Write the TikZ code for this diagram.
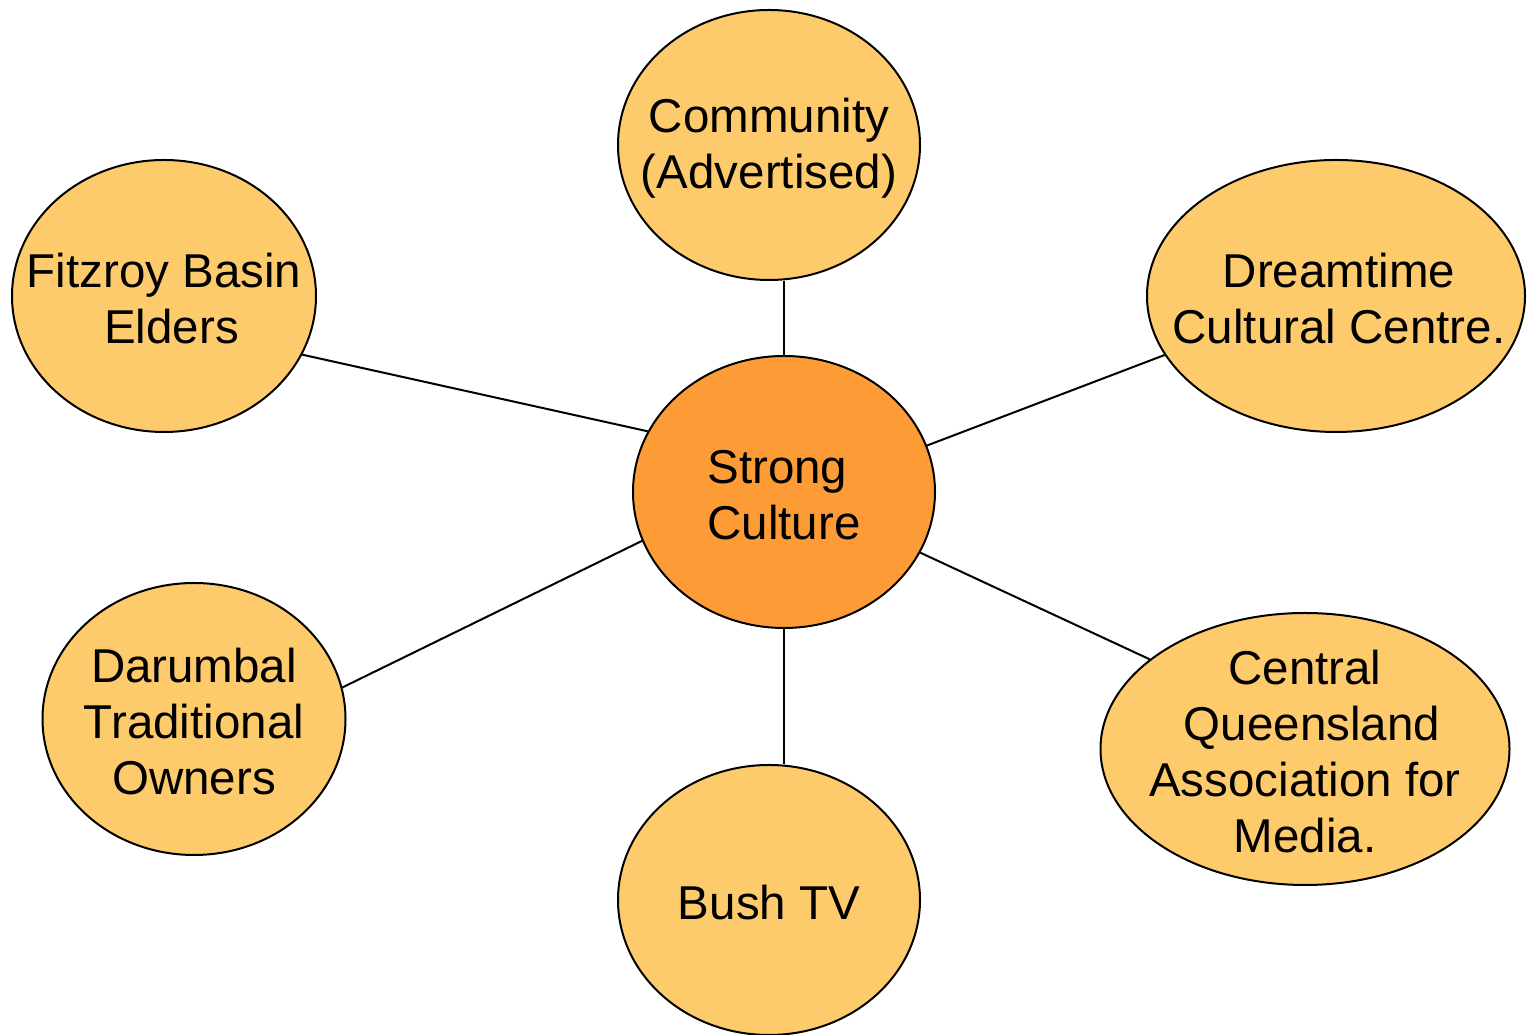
\documentclass[tikz,border=0pt]{standalone}
\usepackage{fontspec}
\setmainfont{Liberation Sans}
\usetikzlibrary{shapes.geometric}
\definecolor{petal}{HTML}{FDCB6B}
\definecolor{hub}{HTML}{FD9B37}
\begin{document}
\begin{tikzpicture}[x=1pt,y=1pt,
  bubble/.style={ellipse, draw=black, line width=2pt, fill=petal, inner sep=0pt},
  hubbubble/.style={bubble, fill=hub},
  txt/.style={align=center, inner sep=0pt, yshift=-3pt, font=\fontsize{47.5}{56}\selectfont},
  link/.style={line width=2pt, draw=black}]
\useasboundingbox (0,0) rectangle (1532,1035);

% centre
\node[hubbubble, minimum width=302, minimum height=272,
  label={[txt, align=left]center:Strong\\Culture}] (sc) at (784,543) {};

% surrounding bubbles
\node[bubble, minimum width=302, minimum height=270,
  label={[txt]center:Community\\(Advertised)}] (comm) at (769,890) {};
\node[bubble, minimum width=304, minimum height=272,
  label={[txt]center:Fitzroy Basin\\\hspace*{15pt}Elders}] (fitz) at (164,739) {};
\node[bubble, minimum width=378, minimum height=272,
  label={[txt, xshift=3pt]center:Dreamtime\\Cultural Centre.}] (dream) at (1336,739) {};
\node[bubble, minimum width=303, minimum height=272,
  label={[txt]center:Darumbal\\Traditional\\Owners}] (daru) at (194,316) {};
\node[bubble, minimum width=409, minimum height=272,
  label={[txt]center:Central\\\hspace*{14pt}Queensland\\Association for\\Media.}] (cqam) at (1305,286) {};
\node[bubble, minimum width=302, minimum height=270,
  label={[txt]center:Bush TV}] (bush) at (769,135) {};

% spokes
\draw[link] (sc.90) -- (sc.90 |- comm.south);
\draw[link] (sc.156.2) -- (fitz.-23.8);
\draw[link] (sc.18.6) -- (dream.199.3);
\draw[link] (sc.199.2) -- (daru.12.7);
\draw[link] (sc.-24.2) -- (cqam.150);
\draw[link] (sc.270) -- (sc.270 |- bush.north);
\end{tikzpicture}
\end{document}
